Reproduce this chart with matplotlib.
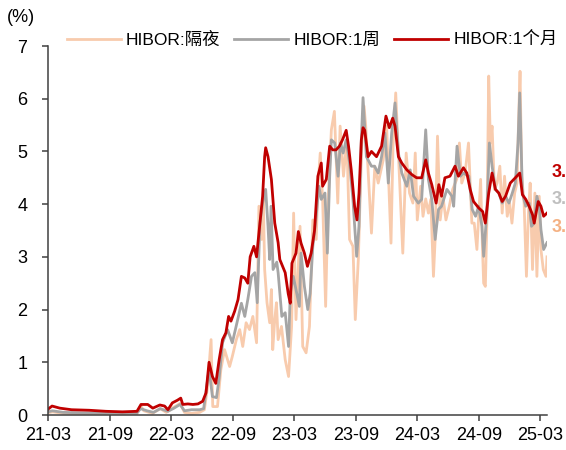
import pandas as pd
import matplotlib
import matplotlib.pyplot as plt
import matplotlib.dates as mdates

matplotlib.use('Agg')
plt.rcParams['font.family'] = ['Liberation Sans', 'Noto Sans CJK SC']

# HIBOR overnight
on_dates = ['2021-03-01', '2021-03-14', '2021-04-15', '2021-06-15', '2021-09-01', '2021-11-20',
            '2021-12-01', '2021-12-10', '2022-01-05', '2022-01-28', '2022-02-15', '2022-03-10',
            '2022-03-28', '2022-04-10', '2022-05-01', '2022-05-25', '2022-06-08', '2022-06-17',
            '2022-06-28', '2022-07-03', '2022-07-17', '2022-07-27', '2022-08-07', '2022-08-22',
            '2022-08-30', '2022-09-11', '2022-09-21', '2022-09-30', '2022-10-10', '2022-10-20',
            '2022-10-30', '2022-11-10', '2022-11-17', '2022-11-25', '2022-11-30', '2022-12-04',
            '2022-12-11', '2022-12-19', '2022-12-24', '2022-12-28', '2023-01-03', '2023-01-08',
            '2023-01-13', '2023-01-23', '2023-02-03', '2023-02-13', '2023-02-22', '2023-02-28',
            '2023-03-07', '2023-03-19', '2023-03-27', '2023-04-06', '2023-04-16', '2023-04-26',
            '2023-05-06', '2023-05-11', '2023-05-18', '2023-05-25', '2023-06-03', '2023-06-10',
            '2023-06-20', '2023-06-29', '2023-07-09', '2023-07-16', '2023-07-26', '2023-08-05',
            '2023-08-13', '2023-08-23', '2023-08-30', '2023-09-08', '2023-09-18', '2023-09-25',
            '2023-09-30', '2023-10-07', '2023-10-17', '2023-10-27', '2023-11-06', '2023-11-21',
            '2023-12-01', '2023-12-14', '2023-12-20', '2023-12-28', '2024-01-08', '2024-01-18',
            '2024-01-28', '2024-02-07', '2024-02-17', '2024-02-24', '2024-03-01', '2024-03-11',
            '2024-03-18', '2024-03-26', '2024-04-03', '2024-04-10', '2024-04-18', '2024-04-23',
            '2024-04-30', '2024-05-08', '2024-05-16', '2024-05-25', '2024-06-04', '2024-06-14',
            '2024-06-26', '2024-07-04', '2024-07-11', '2024-07-21', '2024-07-31', '2024-08-10',
            '2024-08-17', '2024-08-25', '2024-09-05', '2024-09-10', '2024-09-14', '2024-09-19',
            '2024-09-24', '2024-09-29', '2024-10-04', '2024-10-09', '2024-10-16', '2024-10-24',
            '2024-11-01', '2024-11-08', '2024-11-15', '2024-11-23', '2024-11-30', '2024-12-07',
            '2024-12-15', '2024-12-22', '2024-12-27', '2024-12-31', '2025-01-05', '2025-01-12',
            '2025-01-19', '2025-01-25', '2025-01-30', '2025-02-06', '2025-02-13', '2025-02-19',
            '2025-02-26', '2025-03-03', '2025-03-10', '2025-03-18', '2025-03-21']
on_vals = [0.04, 0.06, 0.03, 0.02, 0.02, 0.02,
           0.18, 0.08, 0.03, 0.12, 0.05, 0.15,
           0.22, 0.05, 0.03, 0.05, 0.10, 0.50,
           1.43, 0.16, 0.16, 0.86, 1.24, 0.92,
           1.11, 1.43, 1.62, 1.30, 1.75, 1.62,
           1.87, 1.37, 3.96, 3.33, 4.10, 2.76,
           2.13, 1.75, 2.38, 1.24, 1.81, 2.13,
           1.43, 1.68, 1.05, 0.73, 1.68, 3.83,
           1.81, 3.58, 1.30, 1.18, 1.68, 3.70,
           3.33, 4.34, 4.97, 4.09, 2.06, 4.02,
           5.41, 5.76, 4.02, 5.48, 4.53, 5.22,
           3.33, 3.20, 1.81, 2.95, 5.10, 5.86,
           5.48, 4.65, 3.45, 4.72, 4.40, 4.84,
           5.48, 3.26, 5.10, 6.11, 4.53, 3.07,
           4.97, 4.21, 4.02, 4.97, 3.70, 4.34,
           3.77, 4.10, 3.83, 4.09, 2.63, 3.33,
           5.29, 3.70, 4.15, 3.70, 3.96, 4.28,
           4.47, 5.16, 4.40, 4.60, 5.16, 3.64,
           3.64, 3.14, 4.47, 3.26, 2.50, 2.44,
           3.77, 6.43, 5.16, 5.48, 4.28, 4.40,
           4.72, 3.83, 4.53, 3.77, 4.02, 3.64,
           4.21, 4.40, 5.67, 6.52, 4.53, 4.02,
           2.63, 3.83, 4.40, 2.76, 4.21, 2.63,
           4.15, 3.14, 2.76, 2.63, 3.00]

# HIBOR 1 week
w1_dates = ['2021-03-01', '2021-03-14', '2021-04-15', '2021-06-15', '2021-09-01', '2021-11-20',
            '2021-12-01', '2021-12-20', '2022-01-08', '2022-01-28', '2022-02-20', '2022-03-10',
            '2022-03-28', '2022-04-10', '2022-05-01', '2022-05-25', '2022-06-06', '2022-06-14',
            '2022-06-22', '2022-07-02', '2022-07-14', '2022-07-22', '2022-08-01', '2022-08-16',
            '2022-08-30', '2022-09-15', '2022-09-26', '2022-10-06', '2022-10-15', '2022-10-26',
            '2022-11-05', '2022-11-12', '2022-11-20', '2022-11-28', '2022-12-07', '2022-12-14',
            '2022-12-19', '2022-12-23', '2022-12-29', '2023-01-09', '2023-01-13', '2023-01-24',
            '2023-02-03', '2023-02-13', '2023-02-18', '2023-02-27', '2023-03-07', '2023-03-17',
            '2023-03-22', '2023-04-01', '2023-04-11', '2023-04-18', '2023-04-26', '2023-05-06',
            '2023-05-14', '2023-05-21', '2023-06-01', '2023-06-08', '2023-06-15', '2023-06-20',
            '2023-06-30', '2023-07-10', '2023-07-17', '2023-07-25', '2023-08-03', '2023-08-13',
            '2023-08-23', '2023-09-03', '2023-09-10', '2023-09-17', '2023-09-22', '2023-10-02',
            '2023-10-17', '2023-10-26', '2023-11-06', '2023-11-16', '2023-11-26', '2023-12-06',
            '2023-12-16', '2023-12-26', '2024-01-05', '2024-01-15', '2024-01-30', '2024-02-09',
            '2024-02-19', '2024-03-04', '2024-03-14', '2024-03-26', '2024-04-03', '2024-04-13',
            '2024-04-23', '2024-05-03', '2024-05-12', '2024-05-28', '2024-06-12', '2024-06-17',
            '2024-06-27', '2024-07-07', '2024-07-16', '2024-08-01', '2024-08-11', '2024-08-21',
            '2024-08-30', '2024-09-09', '2024-09-14', '2024-09-24', '2024-10-01', '2024-10-09',
            '2024-10-19', '2024-10-29', '2024-11-08', '2024-11-18', '2024-11-28', '2024-12-08',
            '2024-12-17', '2024-12-25', '2024-12-30', '2025-01-07', '2025-01-17', '2025-01-27',
            '2025-02-03', '2025-02-11', '2025-02-19', '2025-02-26', '2025-03-03', '2025-03-11',
            '2025-03-21']
w1_vals = [0.06, 0.08, 0.05, 0.04, 0.04, 0.04,
           0.12, 0.08, 0.05, 0.12, 0.07, 0.13,
           0.20, 0.08, 0.10, 0.10, 0.12, 0.50,
           0.86, 0.35, 0.33, 0.70, 1.37, 1.62,
           1.37, 1.81, 2.12, 1.87, 2.19, 2.63,
           2.70, 2.13, 3.64, 4.02, 4.28, 3.58,
           2.95, 3.96, 2.76, 2.90, 2.70, 1.87,
           1.94, 1.30, 2.31, 2.63, 2.38, 2.06,
           3.07, 2.44, 2.00, 2.31, 3.20, 3.77,
           4.34, 4.09, 4.21, 3.07, 4.53, 5.22,
           5.16, 4.53, 5.16, 4.97, 5.22, 4.78,
           4.09, 3.01, 3.58, 5.22, 6.02, 4.90,
           4.72, 4.72, 4.59, 4.90, 5.35, 4.40,
           5.35, 5.92, 4.97, 4.59, 4.34, 4.65,
           4.15, 4.02, 4.09, 5.41, 4.47, 4.09,
           3.33, 3.90, 3.96, 4.28, 4.15, 3.96,
           5.10, 4.53, 4.59, 4.53, 3.90, 3.77,
           3.96, 3.58, 3.01, 3.90, 5.16, 4.72,
           4.28, 4.21, 4.02, 4.15, 4.02, 4.21,
           4.40, 5.16, 6.11, 4.21, 3.96, 4.02,
           3.58, 3.64, 4.15, 3.96, 3.52, 3.14,
           3.27]

# HIBOR 1 month
m1_dates = ['2021-03-01', '2021-03-13', '2021-04-05', '2021-05-10', '2021-07-01', '2021-08-20',
            '2021-10-08', '2021-11-20', '2021-12-02', '2021-12-22', '2022-01-06', '2022-01-27',
            '2022-02-10', '2022-02-20', '2022-03-05', '2022-03-20', '2022-03-30', '2022-04-05',
            '2022-04-20', '2022-05-05', '2022-05-20', '2022-06-03', '2022-06-13', '2022-06-22',
            '2022-07-02', '2022-07-12', '2022-07-22', '2022-08-01', '2022-08-11', '2022-08-19',
            '2022-08-26', '2022-09-06', '2022-09-16', '2022-09-26', '2022-10-06', '2022-10-15',
            '2022-10-22', '2022-11-02', '2022-11-10', '2022-11-20', '2022-11-28', '2022-12-04',
            '2022-12-07', '2022-12-14', '2022-12-24', '2023-01-03', '2023-01-13', '2023-01-18',
            '2023-02-03', '2023-02-12', '2023-02-18', '2023-02-23', '2023-03-07', '2023-03-14',
            '2023-03-22', '2023-04-01', '2023-04-10', '2023-04-21', '2023-05-01', '2023-05-11',
            '2023-05-21', '2023-05-25', '2023-06-05', '2023-06-15', '2023-06-24', '2023-07-04',
            '2023-07-14', '2023-07-23', '2023-08-03', '2023-08-10', '2023-08-18', '2023-08-28',
            '2023-09-04', '2023-09-10', '2023-09-17', '2023-09-22', '2023-09-27', '2023-10-07',
            '2023-10-17', '2023-11-01', '2023-11-16', '2023-11-29', '2023-12-09', '2023-12-19',
            '2023-12-26', '2024-01-05', '2024-01-15', '2024-01-30', '2024-02-14', '2024-02-28',
            '2024-03-14', '2024-03-26', '2024-04-03', '2024-04-13', '2024-04-26', '2024-05-04',
            '2024-05-12', '2024-05-22', '2024-06-06', '2024-06-21', '2024-07-01', '2024-07-16',
            '2024-07-26', '2024-08-05', '2024-08-15', '2024-08-30', '2024-09-11', '2024-09-19',
            '2024-09-29', '2024-10-09', '2024-10-19', '2024-10-29', '2024-11-08', '2024-11-18',
            '2024-12-02', '2024-12-17', '2024-12-30', '2025-01-07', '2025-01-17', '2025-01-27',
            '2025-02-06', '2025-02-11', '2025-02-23', '2025-03-03', '2025-03-11', '2025-03-21']
m1_vals = [0.11, 0.17, 0.13, 0.10, 0.09, 0.07,
           0.06, 0.07, 0.20, 0.20, 0.13, 0.19,
           0.17, 0.10, 0.23, 0.28, 0.32, 0.20,
           0.21, 0.20, 0.21, 0.26, 0.42, 1.00,
           0.73, 0.60, 1.05, 1.43, 1.56, 1.87,
           1.78, 1.97, 2.19, 2.63, 2.60, 2.50,
           3.00, 3.20, 3.00, 3.64, 4.15, 4.90,
           5.07, 4.90, 4.47, 3.64, 3.27, 2.95,
           2.70, 2.30, 2.12, 2.88, 3.07, 3.48,
           3.26, 3.07, 2.82, 3.07, 3.50, 4.53,
           4.78, 4.34, 4.47, 5.10, 5.03, 5.03,
           5.10, 5.22, 5.40, 5.10, 4.65, 3.96,
           3.70, 4.20, 5.22, 5.45, 5.40, 4.90,
           5.00, 4.90, 5.10, 5.67, 5.45, 5.63,
           5.48, 4.90, 4.78, 4.65, 4.56, 4.50,
           4.50, 4.84, 4.59, 4.37, 4.02, 4.37,
           4.15, 4.50, 4.53, 4.72, 4.53, 4.69,
           4.59, 4.28, 4.05, 3.93, 3.86, 3.64,
           4.21, 4.59, 4.28, 4.21, 4.05, 4.15,
           4.40, 4.50, 4.59, 4.18, 4.09, 3.96,
           3.80, 3.64, 4.05, 3.96, 3.77, 3.83]

labels = ['HIBOR:隔夜', 'HIBOR:1周', 'HIBOR:1个月']
colors = ['#F8CBAD', '#A5A5A5', '#C00000']
# right-edge labels, shown cut down to "3." as in the source picture
end_labels = ['3.', '3.', '3.']
end_label_y = [3.56, 4.09, 4.60]
end_label_colors = ['#F4B183', '#BFBFBF', '#C00000']


def main():
    fig = plt.figure(figsize=(5.66, 4.5), dpi=100)
    ax = fig.add_axes([48 / 566, 35 / 450, 499 / 566, 369 / 450])

    series = [(on_dates, on_vals), (w1_dates, w1_vals), (m1_dates, m1_vals)]
    for (d, v), c, lab in zip(series, colors, labels):
        ax.plot(pd.to_datetime(d), v, color=c, lw=2.0, label=lab, solid_joinstyle='round')

    ax.set_ylim(0, 7)
    ax.set_xlim(pd.Timestamp('2021-03-01'), pd.Timestamp('2025-03-21'))
    ax.xaxis.set_major_locator(mdates.MonthLocator(bymonth=(3, 9)))
    ax.xaxis.set_major_formatter(mdates.DateFormatter('%y-%m'))
    ax.set_yticks(range(0, 8))

    for s in ['top', 'right']:
        ax.spines[s].set_visible(False)
    for s in ['left', 'bottom']:
        ax.spines[s].set_color('#404040')
        ax.spines[s].set_linewidth(1.1)
    ax.tick_params(axis='y', direction='out', length=4, width=1.1, color='#404040',
                   labelsize=13, pad=11)
    ax.tick_params(axis='x', direction='out', length=4, width=1.1, color='#404040',
                   labelsize=13, pad=5)

    fig.text(0.012, 0.962, '(%)', fontsize=13, va='center', ha='left')

    for txt, y, c in zip(end_labels, end_label_y, end_label_colors):
        ax.annotate(txt, xy=(1.01, y), xycoords=('axes fraction', 'data'),
                    color=c, fontsize=13, fontweight='bold', va='center', ha='left',
                    annotation_clip=False)

    fig.legend(loc='center left', bbox_to_anchor=(67 / 566, 410 / 450), ncol=3,
               frameon=False, handlelength=3.1, handletextpad=0.3, columnspacing=0.8,
               fontsize=12.5, borderpad=0, borderaxespad=0)

    fig.savefig('out.png', dpi=100)
    plt.close(fig)


if __name__ == "__main__":
    main()
